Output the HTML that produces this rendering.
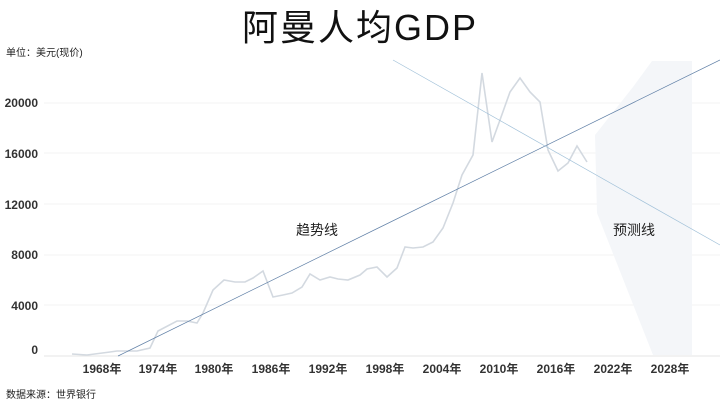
<!DOCTYPE html>
<html><head><meta charset="utf-8"><style>
body{margin:0;background:#fff;width:720px;height:405px;overflow:hidden;font-family:"Liberation Sans","Noto Sans CJK SC",sans-serif}
</style></head><body>
<svg width="720" height="405" viewBox="0 0 720 405" xmlns="http://www.w3.org/2000/svg" font-family="Liberation Sans, Noto Sans CJK SC, sans-serif">
<text x="360" y="40" text-anchor="middle" font-size="36" fill="#111" letter-spacing="2">阿曼人均GDP</text>
<text x="6" y="56" font-size="10" fill="#222">单位：美元(现价)</text>
<text x="6" y="398" font-size="10" fill="#222">数据来源：世界银行</text>
<g stroke="#f3f3f3" stroke-width="1">
<line x1="44" y1="103" x2="720" y2="103"/><line x1="44" y1="153" x2="720" y2="153"/>
<line x1="44" y1="204" x2="720" y2="204"/><line x1="44" y1="255" x2="720" y2="255"/>
<line x1="44" y1="305" x2="720" y2="305"/>
</g>
<line x1="44" y1="356" x2="720" y2="356" stroke="#e6e6e6"/>
<g font-size="12" font-weight="bold" fill="#333" text-anchor="end">
<text x="38" y="107">20000</text><text x="38" y="158">16000</text><text x="38" y="209">12000</text>
<text x="38" y="259">8000</text><text x="38" y="310">4000</text><text x="38" y="354">0</text>
</g>
<g font-size="12" font-weight="bold" fill="#333" text-anchor="middle">
<text x="102" y="373">1968年</text><text x="158" y="373">1974年</text><text x="214" y="373">1980年</text>
<text x="271" y="373">1986年</text><text x="328" y="373">1992年</text><text x="385" y="373">1998年</text>
<text x="442" y="373">2004年</text><text x="499" y="373">2010年</text><text x="556" y="373">2016年</text>
<text x="613" y="373">2022年</text><text x="670" y="373">2028年</text>
</g>
<polygon points="652,61 692,61 692,355 653,355 597,213 595,135 633,87" fill="#f4f6f9"/>
<polyline fill="none" stroke="#d3d9e0" stroke-width="1.6" points="72,354 87,355 110,352 117,351 137,351 150,348 158,331 177,321 187,321 197,323 203,313 213,290 224,280 235,282 245,282 253,278 263,271 273,297 283,295 292,293 302,287 310,274 320,280 330,277 338,279 348,280 360,275 367,269 377,267 387,277 397,268 405,247 413,248 423,247 433,242 443,228 453,203 462,175 473,155 482,73 492,142 500,120 510,92 520,78 530,92 540,102 548,150 558,171 568,163 577,146 587,162"/>
<line x1="118" y1="356" x2="720" y2="60" stroke="#5f7fa6" stroke-width="0.7"/>
<line x1="393" y1="60" x2="720" y2="245" stroke="#a0c0d8" stroke-width="0.7"/>
<text x="296" y="235" font-size="14" fill="#222">趋势线</text>
<text x="613" y="235" font-size="14" fill="#222">预测线</text>
</svg>
</body></html>
